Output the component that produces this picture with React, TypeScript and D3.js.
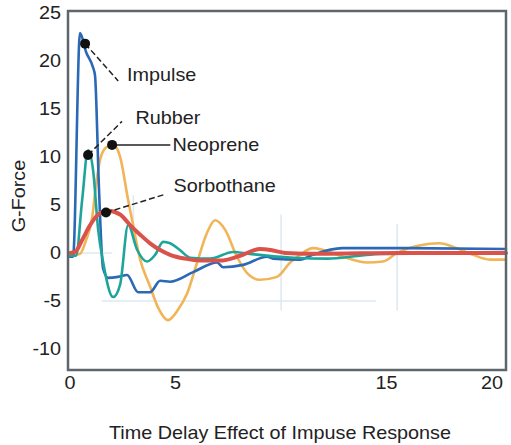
import React from 'react'
import * as d3 from 'd3'

type Pt = [number, number]

// time (x) and g-force (y)
const impulse: Pt[] = [
  [0, -0.4], [0.14, -0.4], [0.47, 22.9], [0.76, 20.9], [1.09, 19.3], [1.18, 18.5],
  [1.37, 6.6], [1.56, -1.6], [1.8, -2.6], [2.27, -2.5], [2.7, -2.3], [3.22, -4.1],
  [3.79, -4.1], [4.27, -2.9], [4.74, -3.0], [5.83, -2.0], [6.97, -1.0], [7.25, -1.5],
  [8.2, -1.25], [9.34, -0.4], [9.62, -0.6], [10.9, -0.7], [11.5, -0.2], [12.9, 0.5],
  [15.6, 0.5], [20.66, 0.4],
]

const rubber: Pt[] = [
  [0, -0.3], [0.28, -0.3], [0.57, 5.5], [0.85, 10.7], [1.09, 8.6], [1.33, 2.4],
  [1.56, -0.9], [2.04, -4.6], [2.37, -3.3], [2.75, 2.9], [3.18, 0.3], [3.65, -0.9],
  [4.03, -0.2], [4.41, 1.15], [4.74, 1.0], [5.2, 0.3], [5.69, -0.5], [6.64, -0.6],
  [7.73, 0.1], [8.5, -0.1], [10.6, -0.5], [12.2, -0.6], [13.7, -0.3], [14.7, -0.1],
  [20.66, 0],
]

const neoprene: Pt[] = [
  [0, -0.3], [0.47, -0.1], [0.76, 1.35], [1.04, 3.6], [1.23, 7.1], [1.42, 9.7],
  [1.71, 11.0], [2.04, 11.25], [2.37, 10.0], [2.75, 5.5], [2.94, 3.4], [3.32, -0.7],
  [3.79, -3.5], [4.17, -5.7], [4.64, -7.0], [5.12, -5.9], [5.55, -4.2], [6.02, -1.0],
  [6.49, 2.1], [6.87, 3.4], [7.35, 2.4], [7.91, -0.4], [8.39, -2.1], [9.0, -2.8],
  [9.81, -2.5], [10.43, -1.0], [10.9, -0.2], [11.5, 0.5], [12.0, 0.3], [12.94, -0.4],
  [14.08, -1.0], [14.83, -0.9], [15.5, 0], [16.6, 0.8], [17.5, 1.0], [18.3, 0.5],
  [19.1, -0.2], [19.9, -0.7], [20.66, -0.7],
]

const sorbothane: Pt[] = [
  [0, 0], [0.24, 0.1], [0.57, 1.35], [0.95, 2.9], [1.33, 4.0], [1.8, 4.4],
  [2.37, 4.0], [2.84, 2.9], [3.32, 1.9], [3.79, 1.0], [4.27, 0.3], [4.74, -0.2],
  [5.45, -0.6], [6.16, -0.8], [7.1, -0.8], [8.06, -0.3], [9.0, 0.4], [9.5, 0.3],
  [10.2, 0], [11.85, -0.1], [15.6, 0], [20.66, 0],
]

const xTicks = [0, 5, 15, 20]
const yTicks = [25, 20, 15, 10, 5, 0, -5, -10]

// callouts: label, marker point, leader end point, dashed?
const labels = ['Impulse', 'Rubber', 'Neoprene', 'Sorbothane']
const markers: Pt[] = [[0.71, 21.8], [0.85, 10.2], [1.99, 11.25], [1.7, 4.2]]
const leaderEnds: Pt[] = [[2.28, 17.9], [2.46, 13.7], [4.75, 11.25], [4.5, 6.1]]
const labelAt: Pt[] = [[2.7, 18.6], [3.1, 14.1], [4.85, 11.25], [4.9, 7.0]]
const dashed = [true, true, false, true]

const font = 'Liberation Sans, Arial, sans-serif'

// the scan's lettering is a little wider than Arial
const Txt = ({ x, y, anchor = 'start', rotate = 0, children }:
  { x: number; y: number; anchor?: string; rotate?: number; children: React.ReactNode }) => (
  <text transform={`translate(${x},${y}) rotate(${rotate}) scale(1.1,1)`} dy="0.35em"
    textAnchor={anchor} fontSize={18} fill="#222">{children}</text>
)

export default function App() {
  const width = 511
  const height = 445
  const left = 68, right = 506, top = 11, bottom = 370

  const x = d3.scaleLinear().domain([-0.1, 20.66]).range([left, right])
  const y = d3.scaleLinear().domain([-12.2, 25.2]).range([bottom, top])

  const line = d3.line<Pt>()
    .x(d => x(d[0]))
    .y(d => y(d[1]))
    .curve(d3.curveMonotoneX)

  const series = [
    { data: neoprene, color: '#f1b456', w: 2.6 },
    { data: impulse, color: '#2b69b6', w: 2.6 },
    { data: rubber, color: '#1ea599', w: 2.6 },
    { data: sorbothane, color: '#d9534b', w: 4 },
  ]

  return (
    <svg width={width} height={height} style={{ position: 'absolute', left: 0, top: 0 }} fontFamily={font}>
      <rect x={0} y={0} width={width} height={height} fill="#fff" />

      {/* faint grid left over in the scan */}
      <g stroke="#dce8f2" strokeWidth={1.5}>
        <line x1={x(0)} x2={x(2)} y1={y(0)} y2={y(0)} />
        <line x1={x(1.5)} x2={x(14.5)} y1={y(-5)} y2={y(-5)} />
        <line x1={x(10)} x2={x(10)} y1={y(4)} y2={y(-6)} />
        <line x1={x(15.5)} x2={x(15.5)} y1={y(3)} y2={y(-6)} />
        <line x1={x(3)} x2={x(3)} y1={y(6)} y2={y(1)} />
      </g>

      {series.map((s, i) => (
        <path key={i} d={line(s.data) ?? ''} fill="none" stroke={s.color}
          strokeWidth={s.w} strokeLinejoin="round" strokeLinecap="round" />
      ))}

      {labels.map((l, i) => (
        <g key={l}>
          <line x1={x(markers[i][0])} y1={y(markers[i][1])} x2={x(leaderEnds[i][0])} y2={y(leaderEnds[i][1])}
            stroke="#222" strokeWidth={1.5} strokeDasharray={dashed[i] ? '6,3' : undefined} />
          <circle cx={x(markers[i][0])} cy={y(markers[i][1])} r={5} fill="#111" />
          <Txt x={x(labelAt[i][0])} y={y(labelAt[i][1])}>{l}</Txt>
        </g>
      ))}

      <rect x={left} y={top} width={right - left} height={bottom - top}
        fill="none" stroke="#5f666b" strokeWidth={2.5} />

      {yTicks.map(t => (
        <Txt key={t} x={left - 7} y={y(t)} anchor="end">{t}</Txt>
      ))}
      {xTicks.map(t => (
        <Txt key={t} x={x(t)} y={bottom + 13} anchor="middle">{t}</Txt>
      ))}

      <Txt x={19} y={196} anchor="middle" rotate={-90}>G-Force</Txt>
      <Txt x={280} y={433} anchor="middle">Time Delay Effect of Impuse Response</Txt>
    </svg>
  )
}
